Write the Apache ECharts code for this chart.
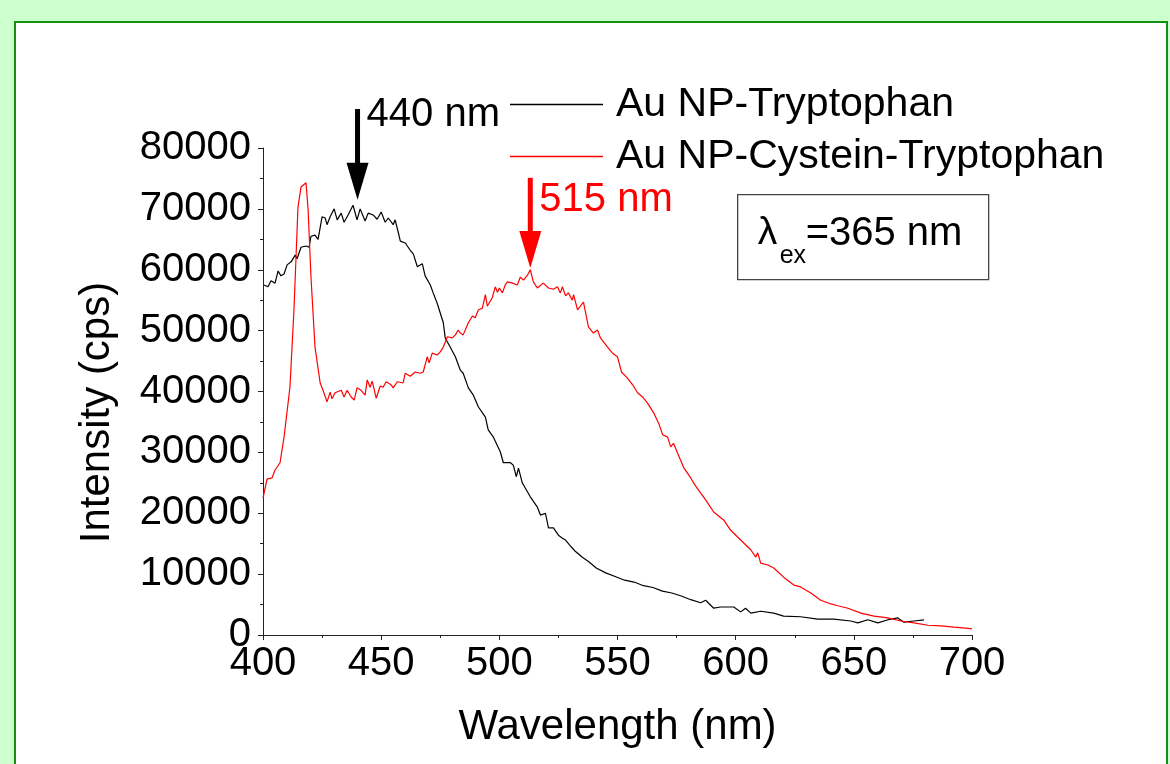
<!DOCTYPE html>
<html>
<head>
<meta charset="utf-8">
<script src="https://cdn.jsdelivr.net/npm/echarts@6/dist/echarts.min.js"></script>
<style>
html, body { margin: 0; padding: 0; background: #ccffcc; overflow: hidden; }
#panel { position: absolute; left: 14px; top: 21px; width: 1150px; height: 800px; background: #fff; border: 2px solid #138f13; }
#chart { position: absolute; left: 0; top: 0; width: 1170px; height: 764px; }
</style>
</head>
<body>
<div id="panel"></div>
<div id="chart"></div>
<script>
// Au NP-Tryptophan (black)
var trpNm = [400.4, 402.1, 403.4, 405.1, 406.4, 407.6, 408.9, 410.2, 411.9, 413.6, 414.4, 416.1, 418.2, 419.5, 420.3,
    422.0, 423.3, 425.0, 426.3, 427.1, 428.4, 430.1, 431.4, 433.1, 434.3, 436.0, 438.1, 439.8, 441.1, 443.2,
    444.5, 446.6, 448.3, 450.0, 451.7, 453.0, 455.1, 455.9, 457.2, 458.1, 460.2, 462.3, 463.6, 465.3, 467.4,
    468.6, 470.8, 472.0, 473.7, 475.0, 476.3, 477.1, 479.2, 481.4, 483.5, 484.7, 486.9, 489.0, 491.1, 494.1,
    495.3, 497.5, 500.4, 501.7, 504.7, 505.9, 507.2, 508.1, 509.7, 513.1, 516.1, 517.4, 519.5, 520.8, 522.9,
    525.0, 526.7, 528.0, 529.7, 532, 535, 538, 541, 545, 549, 553, 557, 561, 565, 569, 573, 577, 581,
    585.2, 587.3, 590.7, 593.6, 599.2, 602.1, 604.2, 606.4, 610.6, 616.1, 620.3, 627.5, 634.7, 641.5, 648.7,
    651.7, 655.9, 660.2, 664.4, 668.6, 671.2, 675.4, 679.7];
var trpCps = [57500, 57200, 58200, 57800, 59800, 59000, 59300, 60800, 61300, 62400, 61800, 63700, 63900, 63700, 65500,
    65700, 65000, 68700, 68500, 67400, 68700, 70000, 68200, 69300, 67800, 69000, 70600, 68200, 70000, 68000,
    69300, 69000, 68300, 69500, 67800, 68500, 67400, 68200, 66200, 64700, 64400, 63200, 62600, 60500, 61000,
    59000, 57500, 56200, 54500, 52900, 51300, 48800, 47300, 45700, 43500, 43000, 40600, 39400, 37500, 35800,
    33700, 32500, 30100, 28300, 28300, 27900, 26000, 27400, 25000, 22700, 21000, 19700, 20000, 17600, 17600,
    16400, 15900, 15600, 14800, 13800, 12800, 12000, 11000, 10200, 9600, 9000, 8700, 8100, 7800, 7200, 6900, 6400, 5800,
    5300, 5700, 4400, 4600, 4600, 3800, 4400, 3600, 3900, 3600, 3100, 3000, 2600, 2600, 2300,
    2000, 2500, 2000, 2500, 2800, 2100, 2300, 2500];

// Au NP-Cystein-Tryptophan (red)
var cysNm = [400.0, 401.7, 403.8, 405.1, 407.2, 408.9, 411.4, 413.1, 414.8, 416.1, 418.2, 419.1, 420.3, 422.0, 424.2,
    425.4, 427.1, 428.4, 429.2, 430.5, 433.1, 434.3, 435.6, 437.3, 438.6, 439.8, 441.5, 443.2, 444.1, 445.3,
    446.2, 447.9, 449.6, 450.8, 452.1, 454.2, 455.1, 456.8, 459.3, 460.2, 462.3, 464.4, 466.5, 467.8, 469.5,
    470.3, 471.6, 473.7, 475.0, 476.3, 478.0, 480.1, 481.4, 482.6, 483.5, 484.7, 486.9, 488.6, 489.8, 491.1,
    492.8, 494.1, 494.9, 497.0, 498.3, 499.2, 500.0, 501.3, 502.5, 503.4, 505.5, 507.6, 508.9, 510.2, 511.9,
    513.1, 514.4, 516.1, 518.6, 520.8, 522.9, 524.6, 525.8, 526.7, 528.0, 529.2, 530.9, 531.4, 533.1, 535.6,
    537.7, 539.8, 541.5, 542.8, 545.8, 547.9, 550.0, 551.7, 554.2, 556.4, 558.5, 560.6, 562.7, 565.3, 567.4,
    569.1, 571.2, 572.5, 573.7, 575.4, 578.0, 581.0, 583.0, 585.2, 587.3, 590.7, 594.9, 597.9, 602.1, 606.4,
    608.5, 609.3, 610.6, 613.6, 616.1, 620.3, 624.6, 627.5, 631.8, 636.0, 640.3, 643.2, 647.5, 653.0, 658.5,
    664.4, 669.9, 675.4, 681.4, 686.9, 692.4, 698.3, 700.0];
var cysCps = [22500, 25600, 25800, 27100, 28300, 32500, 40700, 53400, 70300, 73600, 74300, 69800, 58800, 47300, 41400,
    40200, 38300, 39900, 38800, 39800, 40200, 39100, 40200, 39100, 38600, 40600, 40200, 39400, 41900, 40700,
    41700, 38900, 40900, 40700, 41600, 41100, 40600, 41600, 41400, 43000, 42500, 43200, 43000, 43200, 45700,
    44700, 46300, 46000, 46500, 47300, 49000, 48800, 49300, 50100, 49600, 49300, 51300, 52400, 52100, 53400,
    53700, 55900, 54000, 55400, 57200, 56300, 57000, 56200, 57500, 58000, 57800, 57500, 58800, 58300, 59100,
    60000, 58000, 57000, 57800, 57000, 56800, 57200, 56200, 57200, 55700, 56200, 55000, 55900, 53400, 54700,
    50600, 49600, 50100, 48800, 47300, 46300, 45700, 43200, 42200, 41100, 39800, 39100, 38100, 36500, 34800,
    32900, 32500, 30900, 31500, 29900, 27500, 25800, 24500, 23300, 22200, 20200, 18900, 17200, 15600, 14000,
    12800, 13500, 11800, 11500, 11000, 9500, 8200, 7900, 6900, 5700, 5100, 4800, 4400, 3600, 3100,
    2800, 2300, 2000, 1600, 1500, 1300, 1100, 1000];

// peak arrows: wavelength, top of shaft, tip (cps)
var arrowNm = [440, 513.1];
var arrowTop = [86400, 75100];
var arrowTip = [71500, 60300];
var arrowColor = ['#000000', '#ff0000'];
var arrowText = ['440 nm', '515 nm'];
var arrowTextDy = [6, 22];

var FONT = '"Liberation Sans", Arial, sans-serif';

function zip(xs, ys) {
    return xs.map(function (x, i) { return [x, ys[i]]; });
}

var myChart = echarts.init(document.getElementById('chart'));

var option = {
    animation: false,
    textStyle: { fontFamily: FONT },
    grid: { left: 263, right: 198, top: 148, bottom: 129 },
    legend: {
        orient: 'vertical',
        left: 505,
        top: 79,
        icon: 'rect',
        itemWidth: 93,
        itemHeight: 1.4,
        itemGap: 11,
        data: ['Au NP-Tryptophan', 'Au NP-Cystein-Tryptophan'],
        textStyle: { fontSize: 41, lineHeight: 40, color: '#000', fontFamily: FONT, padding: [0, 0, 0, 8] }
    },
    xAxis: {
        type: 'value',
        min: 400,
        max: 700,
        interval: 50,
        name: 'Wavelength (nm)',
        nameLocation: 'middle',
        nameGap: 71,
        nameTextStyle: { fontSize: 42, color: '#000', fontFamily: FONT },
        axisLine: { show: true, lineStyle: { color: '#222', width: 1 } },
        axisTick: { show: true, inside: false, length: 5, lineStyle: { color: '#222' } },
        minorTick: { show: true, splitNumber: 2, length: 3, lineStyle: { color: '#222' } },
        axisLabel: { fontSize: 40, color: '#000', margin: 9, fontFamily: FONT },
        splitLine: { show: false }
    },
    yAxis: {
        type: 'value',
        min: 0,
        max: 80000,
        interval: 10000,
        name: 'Intensity (cps)',
        nameLocation: 'middle',
        nameGap: 145,
        nameTextStyle: { fontSize: 42, color: '#000', fontFamily: FONT, padding: [0, 42, 0, 0] },
        axisLine: { show: true, lineStyle: { color: '#222', width: 1 } },
        axisTick: { show: true, inside: false, length: 5, lineStyle: { color: '#222' } },
        minorTick: { show: true, splitNumber: 2, length: 3, lineStyle: { color: '#222' } },
        axisLabel: {
            fontSize: 40, color: '#000', margin: 12, fontFamily: FONT,
            formatter: function (v) { return String(v); }
        },
        splitLine: { show: false }
    },
    series: [
        {
            name: 'Au NP-Tryptophan',
            type: 'line',
            symbol: 'none',
            color: '#000',
            lineStyle: { color: '#000', width: 1.2 },
            data: zip(trpNm, trpCps)
        },
        {
            name: 'Au NP-Cystein-Tryptophan',
            type: 'line',
            symbol: 'none',
            color: '#ff0000',
            lineStyle: { color: '#ff0000', width: 1.2 },
            data: zip(cysNm, cysCps)
        }
    ]
};

myChart.setOption(option);

// arrows + labels placed through the axes
var graphics = [];
arrowNm.forEach(function (nm, i) {
    var top = myChart.convertToPixel({ gridIndex: 0 }, [nm, arrowTop[i]]);
    var tip = myChart.convertToPixel({ gridIndex: 0 }, [nm, arrowTip[i]]);
    var headLen = 37, headW = 11;
    graphics.push({
        type: 'line',
        shape: { x1: top[0], y1: top[1], x2: tip[0], y2: tip[1] - headLen + 2 },
        style: { stroke: arrowColor[i], lineWidth: 5 }
    });
    graphics.push({
        type: 'polygon',
        shape: { points: [[tip[0] - headW, tip[1] - headLen], [tip[0] + headW, tip[1] - headLen], [tip[0], tip[1]]] },
        style: { fill: arrowColor[i] }
    });
    graphics.push({
        type: 'text',
        x: top[0] + 9,
        y: top[1] + arrowTextDy[i],
        style: { text: arrowText[i], fontSize: 40, fill: arrowColor[i], fontFamily: FONT, verticalAlign: 'middle' }
    });
});

// excitation wavelength box
graphics.push({
    type: 'group',
    left: 737,
    top: 194,
    children: [
        { type: 'rect', shape: { x: 0, y: 0, width: 251, height: 85 }, style: { fill: '#fff', stroke: '#444', lineWidth: 1.3 } },
        { type: 'text', x: 20, y: 39, style: { text: 'λ', fontSize: 39, fill: '#000', fontFamily: FONT, verticalAlign: 'middle' } },
        { type: 'text', x: 42, y: 61, style: { text: 'ex', fontSize: 25, fill: '#000', fontFamily: FONT, verticalAlign: 'middle' } },
        { type: 'text', x: 68, y: 39, style: { text: '=365 nm', fontSize: 40, fill: '#000', fontFamily: FONT, verticalAlign: 'middle' } }
    ]
});

myChart.setOption({ graphic: graphics });
</script>
</body>
</html>
